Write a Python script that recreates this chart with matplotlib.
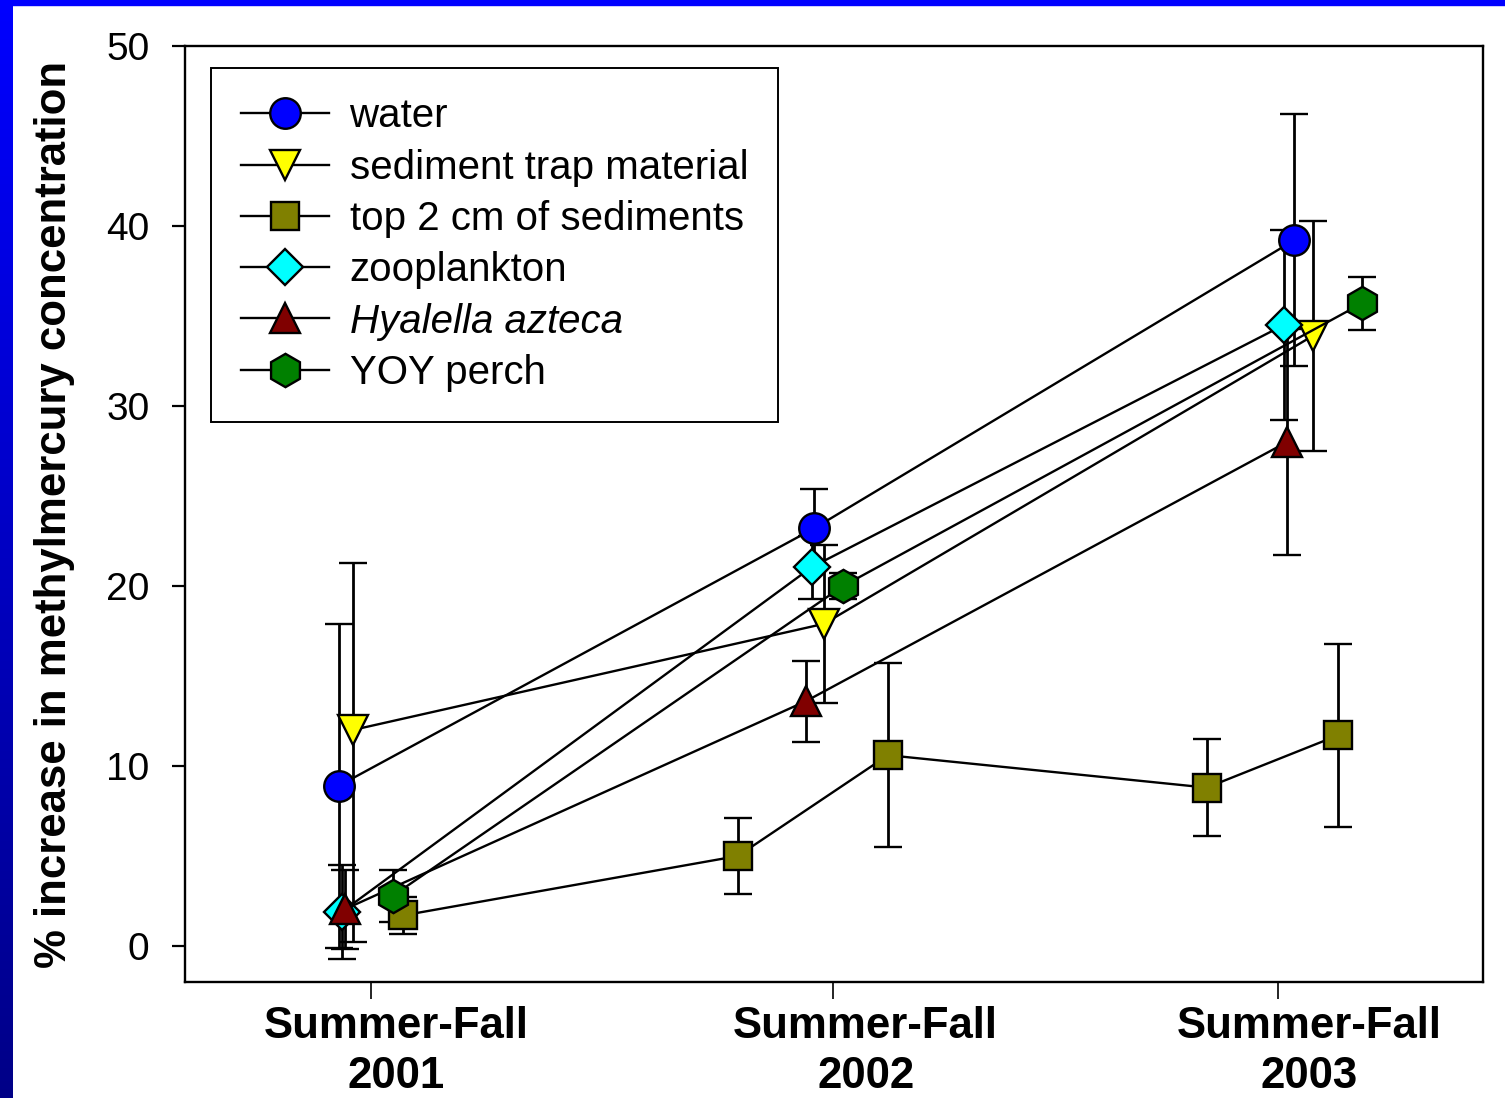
import numpy as np
import matplotlib.pyplot as plt
from matplotlib.patches import Rectangle

plt.rcParams['font.family'] = ['Liberation Sans', 'DejaVu Sans']

# sampling times (fractional year) and % increase in MeHg, with error bars
water_x = [2000.929, 2001.977, 2003.035]
water_y = [8.9, 23.2, 39.2]
water_err = [9.0, 2.2, 7.0]

trap_x = [2000.960, 2001.999, 2003.077]
trap_y = [12.0, 17.9, 33.9]
trap_err_lo = [11.8, 4.4, 6.4]
trap_err_hi = [9.3, 4.4, 6.4]

sed_x = [2001.071, 2001.809, 2002.140, 2002.843, 2003.132]
sed_y = [1.7, 5.0, 10.6, 8.8, 11.7]
sed_err = [1.05, 2.1, 5.1, 2.7, 5.1]

zoo_x = [2000.936, 2001.972, 2003.013]
zoo_y = [1.9, 21.05, 34.5]
zoo_err = [2.6, 1.75, 5.3]

hya_x = [2000.943, 2001.959, 2003.020]
hya_y = [2.05, 13.6, 28.0]
hya_err = [2.2, 2.25, 6.3]

perch_x = [2001.049, 2002.041, 2003.185]
perch_y = [2.8, 20.0, 35.7]
perch_err = [1.45, 0.7, 1.45]

season_ticks = [2001.0, 2002.019, 2003.0]
season_label_pos = [2001.055, 2002.091, 2003.068]
season_labels = ['Summer-Fall\n2001', 'Summer-Fall\n2002', 'Summer-Fall\n2003']

fig = plt.figure(figsize=(15.05, 10.98), dpi=100)

# blue slide frame: gradient strip on the left, solid strip on top
bax = fig.add_axes([0, 0, 12.5 / 1505, 1])
grad = np.zeros((256, 1, 3))
grad[:, 0, 2] = np.linspace(1.0, 0.53, 256)
bax.imshow(grad, aspect='auto')
bax.axis('off')
fig.patches.append(Rectangle((0, 1 - 5 / 1098), 1, 5 / 1098,
                             transform=fig.transFigure, color='#0000FF'))

ax = fig.add_axes([185 / 1505, 1 - 982 / 1098, 1298 / 1505, 936 / 1098])

series = [
    (water_x, water_y, water_err, 'o', '#0000FF', 22, 'water'),
    (trap_x, trap_y, [trap_err_lo, trap_err_hi], 'v', '#FFFF00', 22, 'sediment trap material'),
    (sed_x, sed_y, sed_err, 's', '#808000', 19.5, 'top 2 cm of sediments'),
    (zoo_x, zoo_y, zoo_err, 'D', '#00FFFF', 18.5, 'zooplankton'),
    (hya_x, hya_y, hya_err, '^', '#800000', 22, 'Hyalella azteca'),
    (perch_x, perch_y, perch_err, 'h', '#008000', 24, 'YOY perch'),
]

lines = []
for x, y, err, m, c, ms, label in series:
    eb = ax.errorbar(x, y, yerr=err, fmt='-', marker=m, color='black',
                     markerfacecolor=c, markeredgecolor='black', markeredgewidth=1.7,
                     markersize=ms, linewidth=1.7, ecolor='black', elinewidth=2.0,
                     capsize=10, capthick=2.0, label=label)
    lines.append(eb[0])

ax.set_xlim(2000.590, 2003.452)
ax.set_ylim(-2, 50)
ax.set_yticks([0, 10, 20, 30, 40, 50])
ax.tick_params(axis='y', direction='out', length=9.5, width=1.6,
               labelsize=28, pad=16)

ax.set_xticks(season_ticks)
ax.set_xticklabels(['', '', ''])
ax.set_xticks(season_label_pos, minor=True)
ax.set_xticklabels(season_labels, minor=True, fontsize=31.5,
                   fontweight='bold', linespacing=1.3)
ax.tick_params(axis='x', which='major', direction='out', length=12, width=1.2)
ax.tick_params(axis='x', which='minor', length=0, pad=17)

for s in ['top', 'right', 'bottom', 'left']:
    ax.spines[s].set_linewidth(1.7)

ax.set_ylabel('% increase in methylmercury concentration', fontsize=31.5,
              fontweight='bold')
ax.yaxis.set_label_coords(-0.085, 0.5)

leg = ax.legend(lines, [s[-1] for s in series], loc='upper left',
                bbox_to_anchor=(0.020, 0.9770), borderaxespad=0,
                fontsize=29, handlelength=2.2, handletextpad=0.5,
                borderpad=0.74, labelspacing=0.33, fancybox=False,
                framealpha=1, edgecolor='black')
leg.get_frame().set_linewidth(1.4)
leg.get_texts()[4].set_fontstyle('italic')

fig.savefig('out.png', dpi=100)
